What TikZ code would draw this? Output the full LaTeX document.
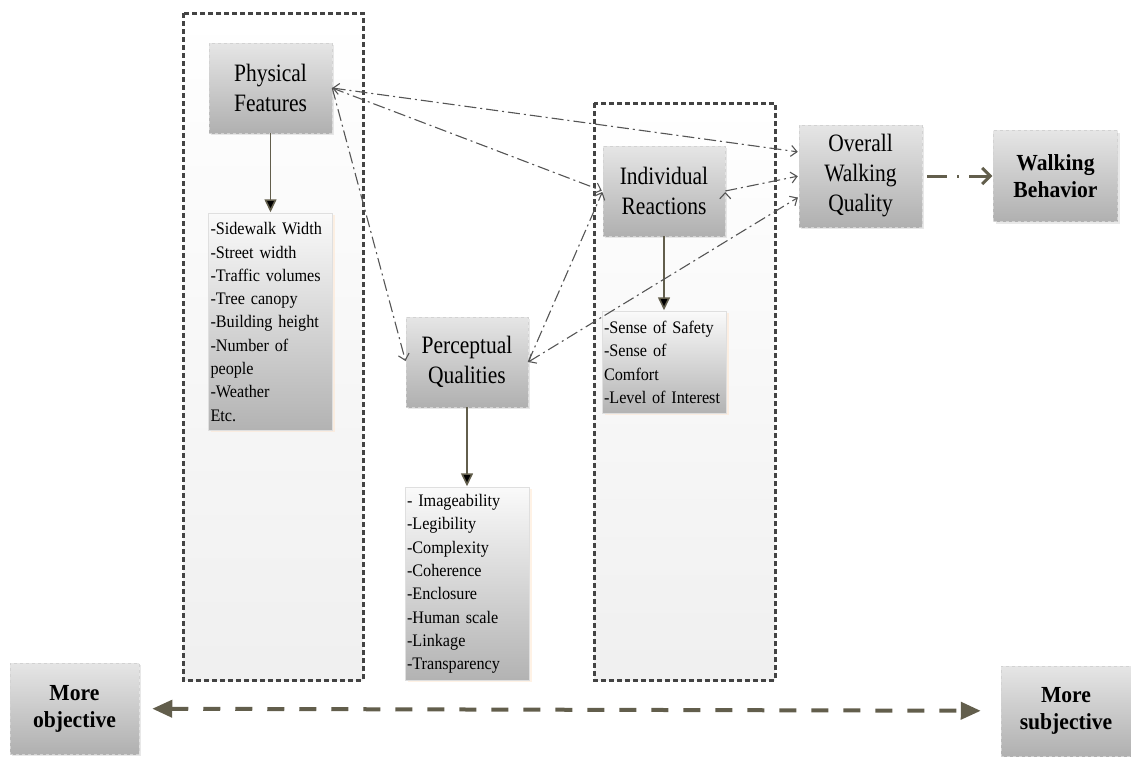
\documentclass[tikz,border=0pt]{standalone}
\usepackage{fontspec}
\setmainfont{Liberation Serif}
\newfontfamily\boxfont[FakeStretch=0.86]{Liberation Serif}
\newfontfamily\listfont[FakeStretch=0.92]{Liberation Serif}
\newfontfamily\headfont[FakeStretch=0.94]{Liberation Serif}
\usetikzlibrary{positioning,arrows.meta,shadows}
\definecolor{arrowgrey}{HTML}{625E4C}
\definecolor{linkgrey}{HTML}{555555}
\definecolor{zonegrey}{HTML}{434343}
\tikzset{
  grey box/.style={draw=gray!35, dashed, line width=0.5pt,
    top color=gray!20, bottom color=gray!62,
    drop shadow={shadow xshift=2pt, shadow yshift=-2pt, fill=gray!35},
    minimum width=123pt, minimum height=90pt, inner sep=2pt,
    align=center, font=\boxfont\fontsize{25}{30}\selectfont},
  bold box/.style={grey box, font=\headfont\fontsize{23}{27}\selectfont\bfseries},
  list box/.style={draw=gray!25, line width=0.4pt,
    top color=gray!4, bottom color=gray!60,
    drop shadow={shadow xshift=2.5pt, shadow yshift=-2pt, fill=orange!20},
    text width=120pt, inner xsep=2pt, align=left,
    font=\listfont\fontsize{17.6}{23.3}\selectfont},
  zone/.style={draw=zonegrey, line width=3pt, dash pattern=on 5pt off 3pt,
    top color=white, bottom color=gray!12},
  link/.style={draw=linkgrey, line width=1.1pt,
    dash pattern=on 12pt off 4pt on 2pt off 4pt,
    -{Straight Barb[length=6pt,width=11pt]}},
  twin/.style={{Straight Barb[length=6pt,width=11pt]}-{Straight Barb[length=6pt,width=11pt]}},
  down arrow/.style={draw=arrowgrey, line width=1.6pt,
    -{Triangle[length=13pt,width=12pt]}},
  lead/.style={draw=arrowgrey, line width=3pt,
    dash pattern=on 20pt off 10pt on 2pt off 10pt,
    -{Straight Barb[length=8pt,width=16pt]}, shorten <=5pt},
  scale line/.style={draw=arrowgrey, line width=4pt, dash pattern=on 17pt off 15pt,
    {Triangle[length=20pt,width=17pt]}-{Triangle[length=20pt,width=17pt]},
    shorten <=13pt, shorten >=20pt}}

\begin{document}
\begin{tikzpicture}[x=1pt, y=-1pt, shorten >=1pt]
  \useasboundingbox (0,0) rectangle (1131,756);
  % dotted zones
  \draw[zone] (183,13) rectangle (363,680);
  \draw[zone] (594,103) rectangle (775,680);

  \node[grey box] (phys) at (270.5,88) {Physical\\Features};
  \node[list box, minimum height=217pt, below=80pt of phys] (phys_list)
    {-Sidewalk Width\\-Street width\\-Traffic volumes\\-Tree canopy\\-Building height\\-Number of\\people\\-Weather\\Etc.};
  \node[grey box, minimum width=122pt] (perc) at (467,362) {Perceptual\\Qualities};
  \node[list box, minimum height=193pt, below=80pt of perc] (perc_list)
    {- Imageability\\-Legibility\\-Complexity\\-Coherence\\-Enclosure\\-Human scale\\-Linkage\\-Transparency};
  \node[grey box, minimum width=122pt] (reac) at (664,191) {Individual\\Reactions};
  \node[list box, minimum height=102pt, below=75pt of reac] (reac_list)
    {-Sense of Safety\\-Sense of\\Comfort\\-Level of Interest};
  \node[grey box, minimum height=102pt] (overall) at (860.5,176) {Overall\\Walking\\Quality};
  \node[bold box, minimum width=124pt, minimum height=91pt, right=71pt of overall] (walk) {Walking\\Behavior};
  \node[bold box, minimum width=129pt, minimum height=91pt] (obj) at (74.5,708.5) {More\\objective};
  \node[bold box, minimum width=130pt] (subj) at (1066,711) {More\\subjective};

  \path[down arrow]
    (phys) edge (phys_list)
    (perc) edge (perc_list)
    (reac) edge (reac_list);
  \path[link]
    (phys.east) edge[twin] ([yshift=24pt]overall.west)
    (phys.east) edge (reac.west)
    (phys.east) edge (perc.west)
    (perc.east) edge (reac.west)
    (perc.east) edge[twin] ([yshift=-21pt]overall.west)
    (reac.east) edge (overall.west);
  \draw[lead] (overall) -- (walk);
  \draw[scale line] (obj) -- (subj);
\end{tikzpicture}
\end{document}
